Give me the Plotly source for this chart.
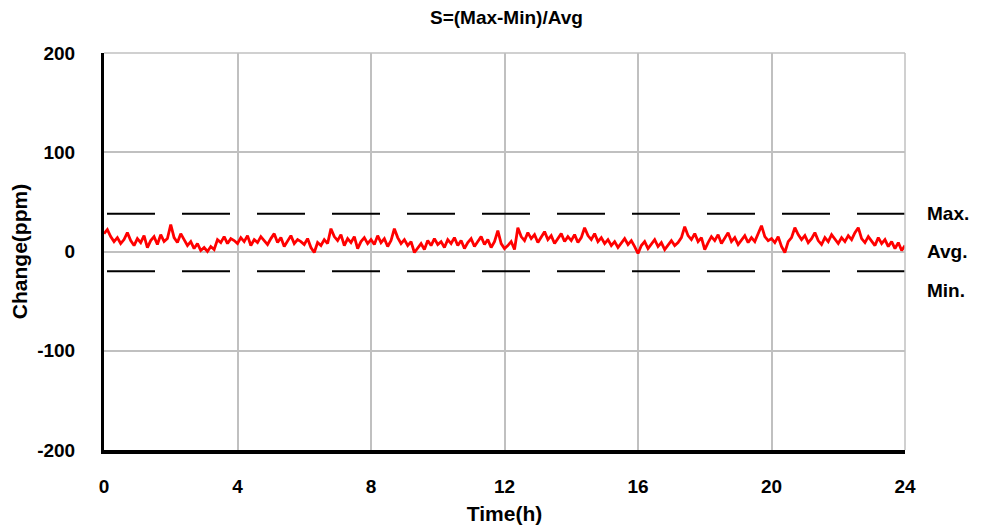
import plotly.graph_objects as go

title_text = "S=(Max-Min)/Avg"
x_ticks = [0, 4, 8, 12, 16, 20, 24]
y_ticks = [-200, -100, 0, 100, 200]
max_val = 38
min_val = -20
avg_val = 0
label_names = ["Max.", "Avg.", "Min."]
label_vals = [38, 0, -39]

step_h = 0.1
change_ppm = [
    18, 22, 15, 10, 14, 8, 12, 19, 11, 6,
    13, 9, 16, 4, 11, 15, 7, 17, 10, 13,
    27, 14, 9, 18, 12, 6, 10, 3, 8, 1,
    4, 0, 5, 2, 12, 9, 15, 8, 13, 11,
    8, 14, 10, 16, 6, 12, 9, 15, 11, 7,
    13, 18, 9, 14, 5, 11, 16, 8, 12, 10,
    7, 13, 4, -1, 9, 6, 12, 8, 23, 15,
    11, 17, 6, 13, 9, 15, 3, 10, 14, 8,
    12, 7, 16, 9, 13, 5, 11, 23, 14, 8,
    12, 6, 10, -1, 4, 8, 2, 11, 6, 13,
    7, 10, 4, 12, 8, 14, 6, 11, 3, 9,
    13, 5, 10, 15, 7, 12, 4, 10, 21, 8,
    3, 6, 10, 2, 24, 15, 11, 19, 13, 17,
    9, 14, 20, 12, 16, 8, 13, 18, 10, 15,
    11, 17, 9, 14, 24, 16, 12, 18, 10, 14,
    8, 12, 6, 10, 4, 9, 13, 7, 11, 5,
    -2, 6, 10, 3, 8, 12, 5, 9, 2, 7,
    11, 6, 9, 14, 25, 16, 12, 18, 10, 14,
    2, 9, 15, 11, 17, 8, 13, 19, 10, 14,
    7, 12, 16, 9, 14, 10, 18, 26, 15, 11,
    13, 9, 15, 5, -1, 10, 14, 24, 17, 12,
    16, 9, 13, 19, 11, 7, 14, 10, 17, 12,
    8, 14, 10, 16, 12, 19, 24, 13, 9, 15,
    11, 6, 14, 8, 12, 5, 10, 3, 9, 1,
    6,
]
time_h = [round(i * step_h, 2) for i in range(len(change_ppm))]

FONT = "Liberation Sans, Arial, sans-serif"

fig = go.Figure()

for v in (max_val, min_val):
    fig.add_trace(go.Scatter(
        x=[0.09, 24], y=[v, v], mode="lines",
        line=dict(color="black", width=2, dash="48px,27px"),
        hoverinfo="skip", showlegend=False))

fig.add_trace(go.Scatter(
    x=time_h, y=change_ppm, mode="lines",
    line=dict(color="#ff0000", width=2.8),
    showlegend=False))

for name, v in zip(label_names, label_vals):
    fig.add_annotation(
        x=1.0, xref="paper", y=v, yref="y", text="<b>" + name + "</b>",
        showarrow=False, xanchor="left", xshift=20,
        font=dict(family=FONT, size=19, color="black"))

fig.update_layout(
    width=987, height=532,
    margin=dict(l=96, r=90, t=45, b=90),
    paper_bgcolor="white", plot_bgcolor="white",
    title=dict(text="<b>" + title_text + "</b>", x=0.505, xanchor="center",
               y=0.983, yanchor="middle",
               font=dict(family=FONT, size=19, color="black")),
    font=dict(family=FONT, size=19, color="black"),
    xaxis=dict(
        range=[0, 24], tickvals=x_ticks, ticktext=["<b>%d</b>" % t for t in x_ticks],
        showgrid=True, gridcolor="#c0c0c0", gridwidth=1.5,
        showline=True, linecolor="black", linewidth=4,
        zeroline=False, ticks="", ticklabelstandoff=16, automargin=False,
        tickfont=dict(family=FONT, size=19),
        title=dict(text="<b>Time(h)</b>", standoff=12,
                   font=dict(family=FONT, size=21)),
    ),
    yaxis=dict(
        range=[-200, 200], tickvals=y_ticks, ticktext=["<b>%d</b>" % t for t in y_ticks],
        showgrid=True, gridcolor="#c0c0c0", gridwidth=1.5,
        showline=True, linecolor="black", linewidth=3,
        zeroline=False, ticks="", ticklabelstandoff=22, automargin=False,
        tickfont=dict(family=FONT, size=19),
        title=dict(text="<b>Change(ppm)</b>", standoff=12,
                   font=dict(family=FONT, size=21)),
    ),
)

# top and right border as grey gridlines
fig.add_shape(type="line", xref="paper", yref="paper", x0=0, x1=1, y0=1, y1=1,
              line=dict(color="#c0c0c0", width=1.5))
fig.add_shape(type="line", xref="paper", yref="paper", x0=1, x1=1, y0=0, y1=1,
              line=dict(color="#c0c0c0", width=1.5))

fig.write_html("out.html")
